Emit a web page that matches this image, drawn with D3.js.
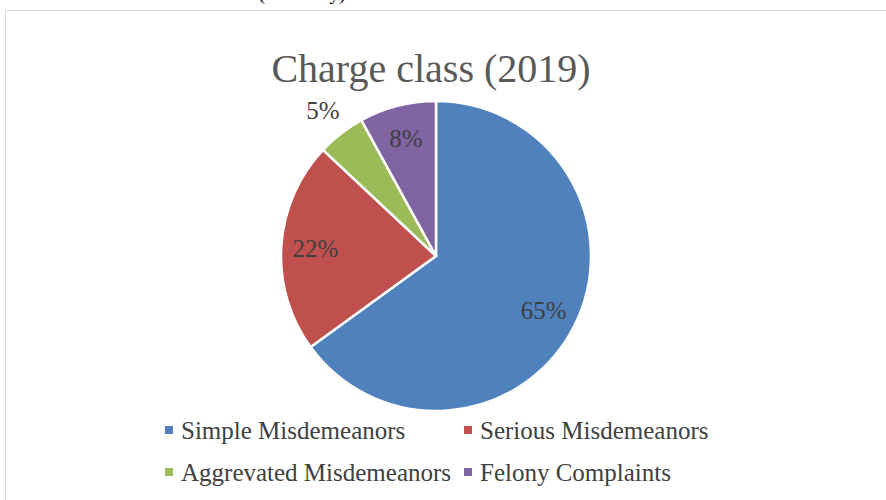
<!DOCTYPE html>
<html>
<head>
<meta charset="utf-8">
<script src="https://cdn.jsdelivr.net/npm/d3@7"></script>
<style>
	body { margin: 0; background: #fff; }
	svg { display: block; }
</style>
</head>
<body>
<div id="chart"></div>
<script>

// Data

var categories = ['Simple Misdemeanors', 'Serious Misdemeanors', 'Aggrevated Misdemeanors', 'Felony Complaints'],
	shares = [65, 22, 5, 8],
	colors = ['#4F81BD', '#C0504D', '#9BBB59', '#8064A2'],
	title = 'Charge class (2019)';

var width = 886,
	height = 500,
	cx = 436,
	cy = 256,
	radius = 155,
	font = '"Liberation Serif", "DejaVu Serif", serif';

var svg = d3.select('#chart').append('svg')
	.attr('width', width)
	.attr('height', height);

// cut-off caption from the page above
svg.append('text')
	.attr('x', 302)
	.attr('y', 0)
	.attr('text-anchor', 'middle')
	.style('font-family', font)
	.style('font-size', '19px')
	.style('fill', '#000')
	.text('(Summary)');

// chart frame
svg.append('rect')
	.attr('x', 5.5)
	.attr('y', 10.5)
	.attr('width', 900)
	.attr('height', 520)
	.style('fill', '#fff')
	.style('stroke', '#d9d9d9')
	.style('stroke-width', 1);

svg.append('text')
	.attr('x', 431)
	.attr('y', 82)
	.attr('text-anchor', 'middle')
	.style('font-family', font)
	.style('font-size', '40px')
	.style('fill', '#595959')
	.text(title);

// Pie

var pie = d3.pie().sort(null).value(function(d) { return d; }),
	arc = d3.arc().innerRadius(0).outerRadius(radius),
	inLabel = d3.arc().innerRadius(radius * 0.78).outerRadius(radius * 0.78),
	outLabel = d3.arc().innerRadius(radius * 1.19).outerRadius(radius * 1.19),
	arcs = pie(shares);

var pieGroup = svg.append('g')
	.attr('transform', 'translate(' + cx + ',' + cy + ')');

pieGroup.selectAll('path')
	.data(arcs)
	.enter()
	.append('path')
	.attr('d', arc)
	.style('fill', function(d, i) { return colors[i]; })
	.style('stroke', '#fff')
	.style('stroke-width', 2.5);

pieGroup.selectAll('text')
	.data(arcs)
	.enter()
	.append('text')
	.attr('transform', function(d) {
		var p = (d.value < 6 ? outLabel : inLabel).centroid(d);
		return 'translate(' + p[0] + ',' + p[1] + ')';
	})
	.attr('text-anchor', 'middle')
	.attr('dominant-baseline', 'central')
	.style('font-family', font)
	.style('font-size', '25px')
	.style('fill', '#404040')
	.text(function(d) { return d.value + '%'; });

// Legend

var legendPos = [[165, 430], [464, 430], [165, 472], [464, 472]];

var legend = svg.selectAll('g.legend')
	.data(categories)
	.enter()
	.append('g')
	.attr('class', 'legend')
	.attr('transform', function(d, i) {
		return 'translate(' + legendPos[i][0] + ',' + legendPos[i][1] + ')';
	});

legend.append('rect')
	.attr('x', 0)
	.attr('y', -4)
	.attr('width', 8)
	.attr('height', 8)
	.style('fill', function(d, i) { return colors[i]; });

legend.append('text')
	.attr('x', 16)
	.attr('y', 0)
	.attr('dominant-baseline', 'central')
	.style('font-family', font)
	.style('font-size', '25px')
	.style('fill', '#404040')
	.text(function(d) { return d; });

</script>
</body>
</html>
